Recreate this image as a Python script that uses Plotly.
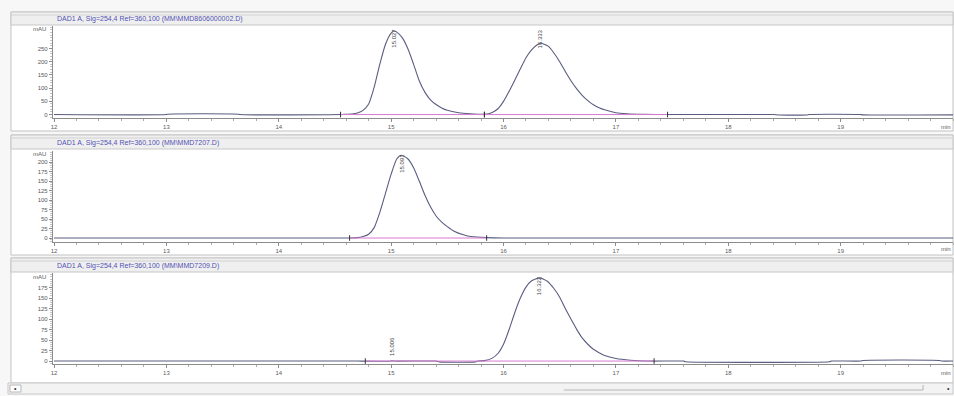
import plotly.graph_objects as go

W, H = 954, 396

# ---- chromatogram data (retention time in min, absorbance in mAU) ----
TITLES = [
    "DAD1 A, Sig=254,4 Ref=360,100 (MM\\MMD8606000002.D)",
    "DAD1 A, Sig=254,4 Ref=360,100 (MM\\MMD7207.D)",
    "DAD1 A, Sig=254,4 Ref=360,100 (MM\\MMD7209.D)",
]

t1 = [12.00, 13.00, 13.01, 13.64, 13.65, 14.55, 14.60, 14.65, 14.70, 14.75, 14.80,
      14.85, 14.90, 14.95, 15.00, 15.027, 15.05, 15.10, 15.15, 15.20, 15.25, 15.30,
      15.35, 15.40, 15.45, 15.50, 15.60, 15.70, 15.83, 15.90, 15.95, 16.00, 16.05,
      16.10, 16.15, 16.20, 16.25, 16.30, 16.333, 16.40, 16.45, 16.50, 16.55, 16.60,
      16.65, 16.70, 16.75, 16.80, 16.85, 16.90, 17.00, 17.10, 17.25, 17.46, 18.40,
      18.45, 18.70, 18.72, 19.17, 19.20, 20.00]
a1 = [0, 0, 1.5, 1.5, 0, 0, 1, 2, 6, 16, 40,
      105, 192, 266, 308, 316, 312, 290, 248, 190, 128, 85,
      56, 38, 25, 16, 7, 3, 1, 8, 22, 50, 88,
      130, 173, 215, 245, 264, 270, 258, 232, 200, 163, 128,
      98, 73, 53, 37, 26, 18, 7, 3, 1, 0, 0,
      -1.5, -1.5, 0.5, 0.5, -1, -1]

t2 = [12.00, 14.60, 14.63, 14.70, 14.75, 14.80, 14.85, 14.90, 14.95, 15.00, 15.05,
      15.091, 15.15, 15.20, 15.25, 15.30, 15.35, 15.40, 15.45, 15.50, 15.56, 15.65,
      15.71, 15.85, 16.00, 20.00]
a2 = [0, 0, 0, 1, 4, 10, 28, 68, 118, 168, 208,
      218, 208, 185, 150, 113, 82, 58, 42, 30, 18, 8,
      4, 1, 0, 0]

t3 = [12.00, 14.68, 14.70, 15.00, 15.006, 15.02, 15.40, 15.43, 15.75, 15.77, 15.83,
      15.90, 15.95, 16.00, 16.05, 16.10, 16.15, 16.20, 16.25, 16.322, 16.39, 16.45,
      16.50, 16.55, 16.60, 16.65, 16.70, 16.75, 16.80, 16.85, 16.90, 17.00, 17.13,
      17.30, 17.60, 17.62, 18.90, 18.92, 19.18, 19.20, 19.88, 19.90, 20.00]
a3 = [0, 0, 0, 0, 1, 0, 0, -2, -2, 0, 1,
      7, 18, 40, 75, 115, 150, 176, 191, 198, 190, 172,
      152, 125, 100, 76, 55, 40, 28, 20, 13, 6, 2,
      0, 0, -1.5, -1.5, 0, 0, 1.5, 1.5, 0, 0]

# integration baselines (start, end) per panel
base1 = [(14.55, 15.83), (15.83, 17.46)]
base2 = [(14.63, 15.85)]
base3 = [(14.77, 17.34)]

# retention-time labels: (time, mAU at label, label text)
rt1 = [(15.027, 316, "15.027"), (16.333, 270, "16.333")]
rt2 = [(15.091, 218, "15.091")]
rt3 = [(15.006, 1, "15.006"), (16.322, 198, "16.322")]

y_ticks = [[0, 50, 100, 150, 200, 250],
           [0, 25, 50, 75, 100, 125, 150, 175, 200],
           [0, 25, 50, 75, 100, 125, 150, 175]]
y_ranges = [[-13, 335], [-10.5, 229], [-7, 209.5]]
y_minor = [10, 5, 5]
x_ticks = [12, 13, 14, 15, 16, 17, 18, 19]
x_range = [11.99, 20.0]

# ---- panel geometry (pixels) ----
panels = [
    dict(top=12, bar=25, plot_top=26, plot_bot=118, bottom=131, label_y=127, mau_y=29, title_y=19),
    dict(top=135, bar=149, plot_top=151, plot_bot=242, bottom=255, label_y=249, mau_y=154, title_y=143),
    dict(top=258, bar=272, plot_top=273, plot_bot=364, bottom=383, label_y=373, mau_y=277, title_y=266),
]
PLOT_L, PLOT_R = 51, 953


def px(x):
    return x / W


def py(y):
    return 1 - y / H


SIGNAL = "#5a5d80"
INTEG = "#d67ad0"
AXIS = "#8c8c8c"
TICKTXT = "#5a5a5a"
TITLE = "#5252b4"
FONT = "Liberation Sans, Arial, sans-serif"

fig = go.Figure()
shapes = []
annotations = []

series = [(t1, a1, base1, rt1), (t2, a2, base2, rt2), (t3, a3, base3, rt3)]

for i, ((t, a, bases, rts), g) in enumerate(zip(series, panels)):
    k = "" if i == 0 else str(i + 1)
    xa, ya = "x" + k, "y" + k

    fig.add_trace(go.Scatter(x=t, y=a, mode="lines", xaxis=xa, yaxis=ya,
                             line=dict(color=SIGNAL, width=1.1, shape="spline", smoothing=0.6),
                             hoverinfo="skip", showlegend=False))
    for (b0, b1) in bases:
        fig.add_trace(go.Scatter(x=[b0, b1], y=[0, 0], mode="lines+markers", xaxis=xa, yaxis=ya,
                                 line=dict(color=INTEG, width=1),
                                 marker=dict(symbol="line-ns", size=4,
                                             line=dict(color="#333333", width=1)),
                                 hoverinfo="skip", showlegend=False))

    fig.layout["xaxis" + k] = dict(
        domain=[px(PLOT_L), px(PLOT_R)], range=x_range, anchor=ya,
        showline=True, linecolor=AXIS, linewidth=1, mirror=False,
        ticks="outside", ticklen=3, tickcolor=AXIS, tickvals=x_ticks,
        ticktext=[str(v) for v in x_ticks],
        tickfont=dict(size=6, color=TICKTXT, family=FONT),
        minor=dict(dtick=0.2, ticks="outside", ticklen=2, tickcolor="#aaaaaa", showgrid=False),
        showgrid=False, zeroline=False, fixedrange=True,
    )
    fig.layout["yaxis" + k] = dict(
        domain=[py(g["plot_bot"]), py(g["plot_top"])], range=y_ranges[i], anchor=xa,
        showline=True, linecolor=AXIS, linewidth=1,
        ticks="outside", ticklen=3, tickcolor=AXIS, tickvals=y_ticks[i],
        ticktext=[str(v) for v in y_ticks[i]],
        tickfont=dict(size=6, color=TICKTXT, family=FONT),
        minor=dict(dtick=y_minor[i], ticks="outside", ticklen=1.5, tickcolor="#c4c4c4", showgrid=False),
        showgrid=False, zeroline=False, fixedrange=True,
    )

    # panel frame and title bar
    shapes.append(dict(type="rect", xref="paper", yref="paper", layer="below",
                       x0=px(9), x1=px(953), y0=py(g["bottom"]), y1=py(g["top"]),
                       line=dict(color="#c2c2c2", width=1), fillcolor="white"))
    shapes.append(dict(type="rect", xref="paper", yref="paper", layer="below",
                       x0=px(9), x1=px(953), y0=py(g["bar"]), y1=py(g["top"]),
                       line=dict(color="#c6c6c6", width=1), fillcolor="#efefef"))
    shapes.append(dict(type="line", xref="paper", yref="paper", layer="below",
                       x0=px(9), x1=px(953), y0=py(g["top"] + 3), y1=py(g["top"] + 3),
                       line=dict(color="#d2d2d2", width=1)))

    annotations.append(dict(text=TITLES[i], xref="paper", yref="paper",
                            x=px(53), y=py(g["title_y"]), xanchor="left", yanchor="middle",
                            showarrow=False, font=dict(size=7, color=TITLE, family=FONT)))
    annotations.append(dict(text="mAU", xref="paper", yref="paper",
                            x=px(46), y=py(g["mau_y"]), xanchor="right", yanchor="middle",
                            showarrow=False, font=dict(size=6, color=TICKTXT, family=FONT)))
    annotations.append(dict(text="min", xref="paper", yref="paper",
                            x=px(953), y=py(g["label_y"]), xanchor="right", yanchor="middle",
                            showarrow=False, font=dict(size=6, color=TICKTXT, family=FONT)))

    # retention-time labels, rotated like the data system prints them
    for (rt, val, txt) in rts:
        peak_px = g["plot_top"] + (y_ranges[i][1] - val) / (y_ranges[i][1] - y_ranges[i][0]) * (g["plot_bot"] - g["plot_top"])
        if peak_px - g["plot_top"] < 20:
            # too close to the top edge: keep the label inside the plot
            shift = peak_px - (g["plot_top"] + 1)
            annotations.append(dict(text=txt, x=rt, y=val, xref=xa, yref=ya, textangle=-90,
                                    xanchor="center", yanchor="top", yshift=shift, showarrow=False,
                                    font=dict(size=6, color="#444444", family=FONT)))
        else:
            annotations.append(dict(text=txt, x=rt, y=val, xref=xa, yref=ya, textangle=-90,
                                    xanchor="center", yanchor="bottom", yshift=3, showarrow=False,
                                    font=dict(size=6, color="#444444", family=FONT)))

# scroll bar under the last panel
shapes.append(dict(type="rect", xref="paper", yref="paper", layer="below",
                   x0=px(6), x1=px(953), y0=py(394), y1=py(383),
                   line=dict(color="#c8c8c8", width=1), fillcolor="#f3f3f3"))
shapes.append(dict(type="rect", xref="paper", yref="paper", layer="below",
                   x0=px(8), x1=px(19), y0=py(392), y1=py(385),
                   line=dict(color="#b8b8b8", width=1), fillcolor="white"))
shapes.append(dict(type="line", xref="paper", yref="paper", layer="below",
                   x0=px(563), x1=px(923), y0=py(390), y1=py(390),
                   line=dict(color="#b5b5b5", width=1)))
shapes.append(dict(type="line", xref="paper", yref="paper", layer="below",
                   x0=px(923), x1=px(923), y0=py(390), y1=py(385),
                   line=dict(color="#b5b5b5", width=1)))
annotations.append(dict(text="\u2022", xref="paper", yref="paper", x=px(13.5), y=py(388.5),
                        xanchor="center", yanchor="middle", showarrow=False,
                        font=dict(size=7, color="#333333", family=FONT)))
annotations.append(dict(text="\u2022", xref="paper", yref="paper", x=px(948), y=py(388.5),
                        xanchor="center", yanchor="middle", showarrow=False,
                        font=dict(size=7, color="#333333", family=FONT)))

fig.update_layout(
    width=W, height=H, margin=dict(l=0, r=0, t=0, b=0),
    paper_bgcolor="#f7f7f7", plot_bgcolor="white",
    shapes=shapes, annotations=annotations, showlegend=False,
    font=dict(family=FONT),
)

fig.write_html("out.html", config={"displayModeBar": False})
